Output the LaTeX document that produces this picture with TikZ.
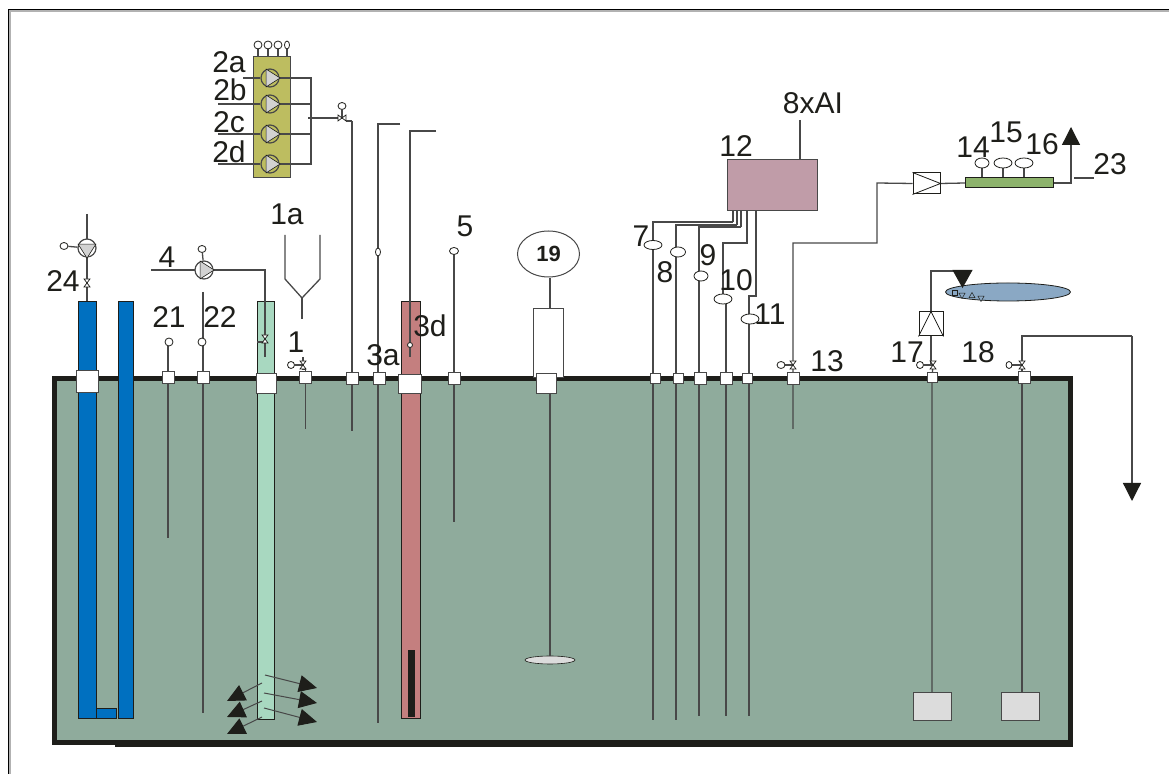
\documentclass[tikz,border=0pt]{standalone}
\usepackage{fontspec}
\setmainfont{Liberation Sans}
\usetikzlibrary{arrows.meta, shapes.geometric}
\definecolor{ink}{HTML}{1E1E1A}
\definecolor{wire}{HTML}{484848}
\definecolor{water}{HTML}{8FAB9C}
\definecolor{steelblue}{HTML}{0070C0}
\definecolor{palegreen}{HTML}{A8D8C0}
\definecolor{rosered}{HTML}{C47F7F}
\definecolor{olive}{HTML}{BDBD60}
\definecolor{mauve}{HTML}{C09CA8}
\definecolor{leaf}{HTML}{8DB36C}
\definecolor{pond}{HTML}{8AA8C4}
\definecolor{sinkgrey}{HTML}{DCDCDC}
\pgfdeclarelayer{basin}
\pgfdeclarelayer{pipes}
\pgfsetlayers{basin,pipes,main}
\tikzset{
  tag/.style={font=\fontsize{15}{16}\selectfont, text=ink, inner sep=0pt},
  pipe/.style={draw=wire, line width=0.65pt},
  tube/.style={draw=ink, line width=0.5pt, inner sep=0pt},
  port/.style={draw=wire, fill=white, line width=0.5pt, inner sep=0pt, minimum size=#1},
  port/.default=6pt,
  sensor/.style={draw=ink, fill=white, ellipse, line width=0.4pt, inner sep=0pt,
        minimum width=7pt, minimum height=5pt},
  pumpring/.style={draw=wire, fill=white, circle, line width=0.6pt, inner sep=0pt, minimum size=9pt},
  pumphead/.style={draw=ink, fill=gray!35, isosceles triangle, isosceles triangle apex angle=65,
        line width=0.3pt, inner sep=0pt, minimum height=7pt, minimum width=6.5pt, shape border rotate=#1},
  grit/.style={draw=ink, fill=pond, regular polygon, regular polygon sides=#1, inner sep=0pt,
        minimum size=3.5pt, line width=0.25pt},
  flow/.style={pipe, -{Triangle[length=9pt,width=9pt,color=ink]}},
  jet/.style={draw=wire, line width=0.5pt, -{Triangle[length=9pt,width=8.5pt,color=ink]}}
}
\newcommand{\valvemark}[2]{\draw[draw=ink, fill=white, line width=0.35pt, shift={(#1)}, rotate=#2]
  (-3,-4) -- (3,-4) -- (-3,4) -- (3,4) -- cycle;}
\begin{document}
\begin{tikzpicture}[x=0.5pt, y=-0.5pt]
  \useasboundingbox (0,0) rectangle (1169,774);
  % Outer frame, open at the bottom and on the right
  \coordinate (frameBL) at (8.5,774);
  \coordinate (frameTL) at (8.5,9.5);
  \coordinate (frameTR) at (1169,9.5);
  \coordinate (shadeBL) at (10,774);
  \coordinate (shadeTL) at (10,11);
  \coordinate (shadeTR) at (1169,11);
  \begin{pgfonlayer}{basin}
    \draw[black, line width=0.7pt] (frameBL) -- (frameTL) -- (frameTR);
    \draw[gray!60, line width=0.7pt] (shadeBL) -- (shadeTL) -- (shadeTR);
    % Basin and columns
    \node[fill=ink, inner sep=0pt, minimum width=479pt, minimum height=2pt] (ledge) at (594,745) {};
    \node[draw=ink, fill=water, line width=2.5pt, inner sep=0pt,
          minimum width=508pt, minimum height=182.25pt] (tank) at (562.5,560.75) {};
    \node[tube, fill=steelblue, minimum width=9pt, minimum height=208.5pt] (blueA) at (87,510.5) {};
    \node[tube, fill=steelblue, minimum width=7.5pt, minimum height=208.5pt] (blueB) at (125.5,510.5) {};
    \node[tube, fill=steelblue, minimum width=10pt, minimum height=5pt] (blueC) at (106,714) {};
    \node[tube, fill=palegreen, minimum width=8.5pt, minimum height=209pt] (aerator) at (265.5,511) {};
    \node[tube, fill=rosered, minimum width=9.5pt, minimum height=208.5pt] (probe) at (410.5,510.5) {};
    \node[fill=ink, inner sep=0pt, minimum width=3.5pt, minimum height=33.5pt] (bar) at (411.5,683.5) {};
    \node[tube, fill=sinkgrey, draw=wire, minimum width=19pt, minimum height=14pt] (sinkA) at (932,707) {};
    \node[tube, fill=sinkgrey, draw=wire, minimum width=19pt, minimum height=14pt] (sinkB) at (1020,707) {};
    \node[draw=ink, fill=sinkgrey, inner sep=0pt, ellipse, line width=0.3pt,
          minimum width=25pt, minimum height=4pt] (paddle) at (550,660) {};
    \node[draw=wire, fill=white, line width=0.5pt, inner sep=0pt,
          minimum width=15pt, minimum height=34.5pt] (drive) at (548,343) {};
    % Equipment above the basin
    \node[tube, draw=wire, fill=olive, minimum width=18.5pt, minimum height=60.5pt] (rack) at (271.5,117.5) {};
    \node[tube, draw=wire, fill=mauve, minimum width=45pt, minimum height=25.5pt] (logger) at (772,185.5) {};
    \node[tube, fill=leaf, minimum width=44pt, minimum height=5pt] (strip) at (1009.5,183) {};
    \node[draw=ink, fill=pond, ellipse, line width=0.4pt, inner sep=0pt,
          minimum width=62.5pt, minimum height=9pt] (lake) at (1008,292) {};
  \end{pgfonlayer}
  % Nozzles on the basin roof
  \node[port=11pt] (nA) at (87,382) {};
  \node[port=6pt] (nB) at (168,378) {};
  \node[port=6pt] (nC) at (203,378) {};
  \node[port=10pt] (nD) at (266,384) {};
  \node[port=6pt] (nE) at (305.5,378) {};
  \node[port=6pt] (nF) at (352,379) {};
  \node[port=6pt] (nG) at (379,379) {};
  \node[port, minimum width=11.5pt, minimum height=9.5pt] (nH) at (410,384) {};
  \node[port=6pt] (nI) at (454,379) {};
  \node[port=10pt] (nJ) at (546.5,384) {};
  \node[port=5pt] (nK) at (655,379) {};
  \node[port=5pt] (nL) at (678,379) {};
  \node[port=6pt] (nM) at (700,379) {};
  \node[port=6pt] (nN) at (726,379) {};
  \node[port=5pt] (nO) at (747,379) {};
  \node[port=6pt] (nP) at (793,379) {};
  \node[port=5pt] (nQ) at (932,378) {};
  \node[port=6pt] (nR) at (1024,378) {};
  % Sensors
  \node[sensor, minimum width=4pt, minimum height=4pt] (sB) at (169,342) {};
  \node[sensor, minimum width=4pt, minimum height=4pt] (sC) at (202,342) {};
  \node[sensor, minimum width=2.5pt, minimum height=4pt] (sG) at (378,252) {};
  \node[sensor, minimum width=2.5pt, minimum height=2.5pt] (sH) at (410,345) {};
  \node[sensor, minimum width=4.5pt, minimum height=3.5pt] (sI) at (454,251) {};
  \node[sensor, minimum width=9pt, minimum height=4.5pt] (s7) at (653,245) {};
  \node[sensor, minimum width=7.5pt, minimum height=5pt] (s8) at (678,252) {};
  \node[sensor, minimum width=7pt, minimum height=5pt] (s9) at (701,276) {};
  \node[sensor, minimum width=9pt, minimum height=5pt] (s10) at (723,299) {};
  \node[sensor, minimum width=9pt, minimum height=5pt] (s11) at (750,319) {};
  \node[sensor] (s14) at (982,163) {};
  \node[sensor, minimum width=9pt] (s15) at (1003,163) {};
  \node[sensor, minimum width=9pt] (s16) at (1024,163) {};
  \node[sensor, minimum width=4pt, minimum height=4pt] (c1) at (258,45) {};
  \node[sensor, minimum width=4pt, minimum height=4pt] (c2) at (268,45) {};
  \node[sensor, minimum width=4pt, minimum height=4pt] (c3) at (278,45) {};
  \node[sensor, minimum width=2.5pt, minimum height=4pt] (c4) at (287,45) {};
  \node[sensor, minimum width=4pt, minimum height=3.5pt] (act2) at (342,106) {};
  \node[sensor, minimum width=4pt, minimum height=3.5pt] (act4) at (202,249) {};
  \node[sensor, minimum width=4pt, minimum height=3.5pt] (act24) at (64,246) {};
  \node[sensor, minimum width=3.5pt, minimum height=3.5pt] (act1) at (291,365) {};
  \node[sensor, minimum width=4pt, minimum height=3.5pt] (act13) at (781,365) {};
  \node[sensor, minimum width=3.5pt, minimum height=3.5pt] (act17) at (920,365) {};
  \node[sensor, minimum width=3pt, minimum height=3.5pt] (act18) at (1009,365) {};
  % Mixer and instruments
  \node[draw=wire, fill=white, ellipse, line width=0.5pt, inner sep=0pt,
        minimum width=31pt, minimum height=23pt, font=\bfseries\fontsize{11}{12}\selectfont,
        text=ink] (mixer) at (548.5,254) {19};
  \node[draw=ink, fill=white, line width=0.5pt, inner sep=0pt,
        minimum width=13.5pt, minimum height=10.5pt] (fanA) at (926.5,183.5) {};
  \node[draw=ink, fill=white, line width=0.5pt, inner sep=0pt,
        minimum width=12pt, minimum height=12pt] (fanB) at (931,324) {};
  \draw[draw=ink, line width=0.4pt] (fanA.north west) -- (fanA.east) -- (fanA.south west);
  \draw[draw=ink, line width=0.4pt] (fanB.south west) -- (fanB.north) -- (fanB.south east);
  % Pumps
  \node[pumpring, fill=olive] (p2a) at (270,78) {};
  \node[pumpring, fill=olive] (p2b) at (270,104) {};
  \node[pumpring, fill=olive] (p2c) at (270,134) {};
  \node[pumpring, fill=olive] (p2d) at (270,164) {};
  \node[pumpring] (p4) at (204,270) {};
  \node[pumpring] (p24) at (87,248) {};
  \node[pumphead=0] at (271,78) {};
  \node[pumphead=0] at (271,104) {};
  \node[pumphead=0] at (271,134) {};
  \node[pumphead=0] at (271,164) {};
  \node[pumphead=0] at (205,270) {};
  \node[pumphead=270] at (87,249) {};
  % Free ends
  \coordinate (in2a) at (243,78);
  \coordinate (in2b) at (218,104);
  \coordinate (in2c) at (218,134);
  \coordinate (in2d) at (218,164);
  \coordinate (busT) at (311,78);
  \coordinate (busB) at (311,164);
  \coordinate (busF) at (308,118);
  \coordinate (v2) at (342,118);
  \coordinate (out2) at (346,121);
  \coordinate (drop2) at (352,121);
  \coordinate (end2) at (352,431);
  \coordinate (hookG) at (400,124);
  \coordinate (topG) at (378,124);
  \coordinate (endG) at (378,723);
  \coordinate (hookH) at (436,131);
  \coordinate (topH) at (410,131);
  \coordinate (endH) at (410,357);
  \coordinate (topC) at (203,292);
  \coordinate (endC) at (203,713);
  \coordinate (endB) at (168,538);
  \coordinate (endE) at (305.5,429);
  \coordinate (endI) at (454,522);
  \coordinate (in4) at (151,270);
  \coordinate (dog4) at (265,270);
  \coordinate (end4) at (265,357);
  \coordinate (v4) at (265,339);
  \coordinate (lever4) at (257,342);
  \coordinate (hub4) at (265,342);
  \coordinate (top24) at (87,214);
  \coordinate (v24) at (87,283);
  \coordinate (funL) at (285,235);
  \coordinate (funLb) at (285,279);
  \coordinate (funN) at (302,298);
  \coordinate (funR) at (320,235);
  \coordinate (funRb) at (320,279);
  \coordinate (funS) at (302,319);
  \coordinate (v1) at (303,365);
  \coordinate (stem1) at (303,357);
  \coordinate (foot1) at (303,369);
  \coordinate (v13) at (793,365);
  \coordinate (v17) at (933,365);
  \coordinate (v18) at (1022,365);
  \coordinate (end13) at (793,429);
  \coordinate (top13) at (793,243);
  \coordinate (mid13) at (877,243);
  \coordinate (up13) at (877,183);
  \coordinate (k7) at (653,222);
  \coordinate (k7b) at (733,222);
  \coordinate (k8) at (676,225);
  \coordinate (k8b) at (737,225);
  \coordinate (k9) at (699,227);
  \coordinate (k9b) at (741,227);
  \coordinate (k10) at (723,243);
  \coordinate (k10b) at (747,243);
  \coordinate (k11) at (756,296);
  \coordinate (k11b) at (749,296);
  \coordinate (e7) at (653,720);
  \coordinate (e8) at (676,720);
  \coordinate (e9) at (699,716);
  \coordinate (e10) at (726,716);
  \coordinate (e11) at (749,716);
  \coordinate (top8x) at (800,120);
  \coordinate (out23) at (1071,183);
  \coordinate (tip23) at (1071,127);
  \coordinate (lead23a) at (1074,178);
  \coordinate (lead23b) at (1094,178);
  \coordinate (lakeL) at (930,271);
  \coordinate (tipT) at (955,271);
  \coordinate (shaftT) at (550,278);
  \coordinate (top18) at (1022,336);
  \coordinate (far18) at (1132,336);
  \coordinate (tip18) at (1132,501);
  \begin{pgfonlayer}{pipes}
    % Pipes through the roof
    \draw[pipe] (top24) -- (blueA.north);
    \draw[pipe] (sB.south -| endB) -- (endB);
    \draw[pipe] (topC) -- (endC);
    \draw[pipe] (in4) -- (dog4) -- (end4);
    \draw[pipe] (lever4) -- (hub4);
    \draw[pipe] (nE.center) -- (endE);
    \draw[pipe] (funL) -- (funLb) -- (funN) -- (funRb) -- (funR);
    \draw[pipe] (funN) -- (funS);
    \draw[pipe] (stem1) -- (foot1) -- (foot1 -| nE) -- (nE.center);
    \draw[pipe] (drop2) -- (end2);
    \draw[pipe] (out2) -- (drop2);
    \draw[pipe] (hookG) -- (topG) -- (endG);
    \draw[pipe] (hookH) -- (topH) -- (endH);
    \draw[pipe] (sI) -- (endI);
    \draw[pipe] (shaftT) -- (shaftT |- drive.north);
    \draw[pipe] (nJ.center -| paddle) -- (paddle);
    % Pump rack
    \draw[pipe] (in2a) -- (p2a);
    \draw[pipe] (in2b) -- (p2b);
    \draw[pipe] (in2c) -- (p2c);
    \draw[pipe] (in2d) -- (p2d);
    \draw[pipe] (p2a) -- (busT) -- (busB) -- (p2d);
    \draw[pipe] (p2b) -- (p2b -| busT);
    \draw[pipe] (p2c) -- (p2c -| busT);
    \draw[pipe] (busF) -- (v2);
    \draw[pipe] (c1) -- (c1 |- rack.north);
    \draw[pipe] (c2) -- (c2 |- rack.north);
    \draw[pipe] (c3) -- (c3 |- rack.north);
    \draw[pipe] (c4) -- (c4 |- rack.north);
    \draw[pipe] (act2) -- (v2);
    \draw[pipe] (act4) -- (p4);
    \draw[pipe] (act24) -- (p24);
    \draw[pipe] (act1) -- (v1);
    \draw[pipe] (act13) -- (v13);
    \draw[pipe] (act17) -- (v17);
    \draw[pipe] (act18) -- (v18);
    % Logger lines
    \draw[pipe] (k7b) -- (k7) -- (e7);
    \draw[pipe] (k7b) -- (k7b |- logger.south);
    \draw[pipe] (k8b) -- (k8) -- (e8);
    \draw[pipe] (k8b) -- (k8b |- logger.south);
    \draw[pipe] (k9b) -- (k9) -- (e9);
    \draw[pipe] (k9b) -- (k9b |- logger.south);
    \draw[pipe] (k10b |- logger.south) -- (k10b) -- (k10) -- (s10);
    \draw[pipe] (s10.south -| e10) -- (e10);
    \draw[pipe] (k11 |- logger.south) -- (k11) -- (k11b) -- (e11);
    \draw[pipe] (top8x) -- (top8x |- logger.north);
    % Right side
    \draw[pipe] (end13) -- (top13) -- (mid13) -- (up13) -- (fanA.west);
    \draw[pipe] (fanA.east) -- (strip.west);
    \draw[pipe] (s14) -- (s14 |- strip.north);
    \draw[pipe] (s15) -- (s15 |- strip.north);
    \draw[pipe] (s16) -- (s16 |- strip.north);
    \draw[flow] (strip.east) -- (out23) -- (tip23);
    \draw[pipe] (lead23a) -- (lead23b);
    \draw[pipe] (tipT) -- (tipT -| fanB) -- (fanB.north);
    \draw[pipe] (fanB.south) -- (v17 -| fanB);
    \draw[pipe] (v17) -- (nQ.center) -- (sinkA);
    \draw[pipe] (far18) -- (top18) -- (sinkB.north -| top18);
    \draw[flow] (far18) -- (tip18);
    % Jets at the foot of the aerator
    \coordinate (jetR1) at (265,675);
    \coordinate (jetR2) at (264,693);
    \coordinate (jetR3) at (264,708);
    \coordinate (jetL1) at (262,683);
    \coordinate (jetL2) at (262,701);
    \coordinate (jetL3) at (262,717);
    \coordinate (hitR1) at (317,688);
    \coordinate (hitR2) at (317,703);
    \coordinate (hitR3) at (317,722);
    \coordinate (hitL1) at (227,701);
    \coordinate (hitL2) at (227,717);
    \coordinate (hitL3) at (227,734);
  \end{pgfonlayer}
  \draw[jet] (jetR1) -- (hitR1);
  \draw[jet] (jetR2) -- (hitR2);
  \draw[jet] (jetR3) -- (hitR3);
  \draw[jet] (jetL1) -- (hitL1);
  \draw[jet] (jetL2) -- (hitL2);
  \draw[jet] (jetL3) -- (hitL3);
  % Valves
  \valvemark{v2}{90}
  \valvemark{v24}{0}
  \valvemark{v1}{0}
  \valvemark{v13}{0}
  \valvemark{v17}{0}
  \valvemark{v18}{0}
  \valvemark{v4}{0}
  % Pond drop
  \node[draw=ink, fill=ink, isosceles triangle, isosceles triangle apex angle=60,
        isosceles triangle stretches, inner sep=0pt, minimum height=8.5pt, minimum width=9.5pt,
        shape border rotate=270, anchor=apex] (drop) at (962.5,288) {};
  \node[grit=4] (gritA) at (955,293) {};
  \node[grit=3, shape border rotate=180] (gritB) at (962,295) {};
  \node[grit=3] (gritC) at (972,296) {};
  \node[grit=3, shape border rotate=180] (gritD) at (981,298) {};
  % Labels
  \node[tag] (t2a) at (229,62) {2a};
  \node[tag] (t2b) at (230,90) {2b};
  \node[tag] (t2c) at (229,122) {2c};
  \node[tag] (t2d) at (229,152) {2d};
  \node[tag] (t1a) at (287,214) {1a};
  \node[tag] (t1) at (296,342) {1};
  \node[tag] (t4) at (167,257) {4};
  \node[tag] (t24) at (63,281) {24};
  \node[tag] (t21) at (169,317) {21};
  \node[tag] (t22) at (220,317) {22};
  \node[tag] (t3a) at (383,355) {3a};
  \node[tag] (t3d) at (430,326) {3d};
  \node[tag] (t5) at (465,226) {5};
  \node[tag] (t7) at (641,236) {7};
  \node[tag] (t8) at (665,272) {8};
  \node[tag] (t9) at (708,255) {9};
  \node[tag] (t10) at (736,280) {10};
  \node[tag] (t11) at (770,314) {11};
  \node[tag] (t12) at (736,146) {12};
  \node[tag] (t8x) at (813,103) {8xAI};
  \node[tag] (t13) at (827,361) {13};
  \node[tag] (t14) at (973,147) {14};
  \node[tag] (t15) at (1006,132) {15};
  \node[tag] (t16) at (1042,144) {16};
  \node[tag] (t17) at (907,352) {17};
  \node[tag] (t18) at (978,352) {18};
  \node[tag] (t23) at (1110,164) {23};
\end{tikzpicture}
\end{document}
